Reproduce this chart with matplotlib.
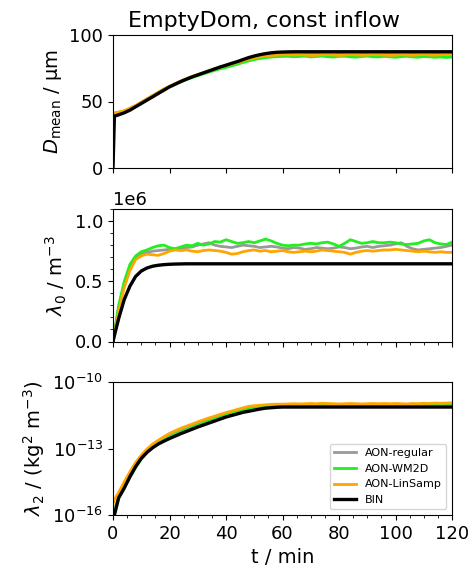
import numpy as np
import matplotlib
matplotlib.use("Agg")
import matplotlib.pyplot as plt
from matplotlib.ticker import MultipleLocator, NullLocator, FixedLocator

# time axis (min)
t = np.concatenate([[0, 0.5], np.arange(2, 121, 2)])

labels = ["AON-regular", "AON-WM2D", "AON-LinSamp", "BIN"]
colors = ["#999999", "#22ee22", "#ffa500", "#000000"]

# ---- D_mean (um) ----
dmean_regular = [
    41, 41, 41.9, 42.9, 44.8, 46.8, 49.2, 51.8, 54.2, 56.8,
    59.2, 61.2, 63.2, 65.1, 66.8, 68.3, 69.8, 71.2, 72.6, 73.9,
    75.1, 76.3, 77.5, 78.7, 80, 81.2, 82.3, 83.2, 84, 84.6,
    85, 85.3, 85.5, 85.8, 85.6, 85.9, 85.4, 85.7, 86.0, 85.6,
    85.3, 85.7, 85.9, 85.5, 85.8, 86.1, 85.6, 85.4, 85.8, 85.5,
    85.9, 85.7, 85.3, 85.6, 85.8, 85.5, 85.9, 85.6, 85.4, 85.7,
    85.5, 85.8]
dmean_wm2d = [
    41, 41, 41.8, 42.8, 44.5, 46.5, 49, 51.5, 54, 56.5,
    59, 61, 63, 64.8, 66.5, 68, 69.4, 70.8, 72.1, 73.4,
    74.6, 75.6, 76.8, 78, 79.3, 80.5, 81.5, 82.3, 83, 83.4,
    83.7, 83.9, 84.0, 83.6, 83.9, 84.1, 83.5, 83.8, 84.2, 83.7,
    83.4, 83.9, 84.0, 83.6, 83.3, 83.8, 84.1, 83.7, 83.5, 83.9,
    83.6, 83.2, 83.7, 84.0, 83.5, 83.3, 83.8, 83.6, 83.2, 83.5,
    83.1, 83.4]
dmean_linsamp = [
    41, 41.5, 42, 43, 45, 47, 49.5, 52, 54.5, 57,
    59.5, 61.5, 63.5, 65.5, 67.2, 68.8, 70.3, 71.7, 73.1, 74.5,
    75.8, 77, 78.2, 79.4, 80.6, 81.8, 82.8, 83.6, 84.2, 84.6,
    84.9, 85.1, 85.2, 84.9, 85.3, 85.0, 84.6, 84.8, 85.2, 85.4,
    85.0, 84.7, 84.9, 85.3, 85.1, 84.8, 85.0, 85.4, 85.2, 84.9,
    84.6, 84.9, 85.2, 85.0, 84.7, 85.1, 85.3, 85.0, 84.8, 85.1,
    85.4, 85.2]
dmean_bin = [
    0, 39, 40, 41.5, 43.5, 46, 48.5, 51, 53.5, 56,
    58.5, 61, 63, 65, 66.8, 68.5, 70, 71.5, 73, 74.5,
    76, 77.3, 78.7, 80, 81.5, 83, 84.2, 85.2, 86, 86.6,
    87, 87.2, 87.3, 87.4, 87.4, 87.4, 87.4, 87.4, 87.4, 87.4,
    87.4, 87.4, 87.4, 87.4, 87.4, 87.4, 87.4, 87.4, 87.4, 87.4,
    87.4, 87.4, 87.4, 87.4, 87.4, 87.4, 87.4, 87.4, 87.4, 87.4,
    87.4, 87.4]

# ---- lambda_0 (1e6 m^-3) ----
lam0_regular = [
    0, 0.07, 0.28, 0.48, 0.62, 0.69, 0.73, 0.74, 0.75, 0.755,
    0.76, 0.765, 0.77, 0.775, 0.78, 0.785, 0.80, 0.81, 0.82, 0.80,
    0.79, 0.785, 0.78, 0.79, 0.80, 0.795, 0.79, 0.78, 0.785, 0.79,
    0.785, 0.775, 0.77, 0.78, 0.775, 0.765, 0.77, 0.78, 0.775, 0.77,
    0.775, 0.785, 0.78, 0.77, 0.775, 0.785, 0.79, 0.78, 0.79, 0.795,
    0.80, 0.81, 0.82, 0.79, 0.77, 0.76, 0.765, 0.77, 0.775, 0.78,
    0.79, 0.80]
lam0_wm2d = [
    0, 0.08, 0.30, 0.50, 0.64, 0.71, 0.745, 0.76, 0.78, 0.795,
    0.80, 0.78, 0.77, 0.785, 0.80, 0.795, 0.815, 0.80, 0.81, 0.83,
    0.825, 0.845, 0.83, 0.815, 0.82, 0.83, 0.82, 0.835, 0.85, 0.835,
    0.815, 0.80, 0.795, 0.80, 0.80, 0.81, 0.815, 0.81, 0.82, 0.825,
    0.81, 0.79, 0.815, 0.845, 0.83, 0.815, 0.82, 0.83, 0.82, 0.82,
    0.825, 0.82, 0.81, 0.805, 0.81, 0.815, 0.835, 0.845, 0.82, 0.81,
    0.805, 0.825]
lam0_linsamp = [
    0, 0.06, 0.25, 0.45, 0.59, 0.68, 0.71, 0.725, 0.72, 0.715,
    0.73, 0.75, 0.76, 0.755, 0.76, 0.75, 0.745, 0.755, 0.76, 0.755,
    0.75, 0.74, 0.725, 0.73, 0.745, 0.755, 0.76, 0.75, 0.755, 0.745,
    0.75, 0.755, 0.745, 0.74, 0.745, 0.75, 0.745, 0.75, 0.76, 0.755,
    0.75, 0.745, 0.74, 0.725, 0.74, 0.75, 0.755, 0.75, 0.755, 0.76,
    0.76, 0.765, 0.76, 0.755, 0.75, 0.745, 0.75, 0.745, 0.74, 0.745,
    0.74, 0.74]
lam0_bin = [
    0, 0.05, 0.19, 0.35, 0.46, 0.54, 0.585, 0.61, 0.625, 0.633,
    0.638, 0.641, 0.643, 0.644, 0.645, 0.645, 0.645, 0.645, 0.645, 0.645,
    0.645, 0.645, 0.645, 0.645, 0.645, 0.645, 0.645, 0.645, 0.645, 0.645,
    0.645, 0.645, 0.645, 0.645, 0.645, 0.645, 0.645, 0.645, 0.645, 0.645,
    0.645, 0.645, 0.645, 0.645, 0.645, 0.645, 0.645, 0.645, 0.645, 0.645,
    0.645, 0.645, 0.645, 0.645, 0.645, 0.645, 0.645, 0.645, 0.645, 0.645,
    0.645, 0.645]

# ---- lambda_2 (log10 of kg^2 m^-3) ----
lam2_log_regular = [
    -16.0, -15.8, -15.15, -14.72, -14.25, -13.82, -13.44, -13.15, -12.92, -12.74,
    -12.58, -12.44, -12.31, -12.2, -12.1, -12.0, -11.9, -11.81, -11.72, -11.63,
    -11.55, -11.46, -11.38, -11.3, -11.23, -11.17, -11.12, -11.09, -11.07, -11.05,
    -11.04, -11.03, -11.03, -11.02, -11.03, -11.02, -11.02, -11.01, -11.02, -11.02,
    -11.01, -11.02, -11.02, -11.01, -11.02, -11.01, -11.02, -11.01, -11.01, -11.02,
    -11.01, -11.02, -11.01, -11.01, -11.0, -11.01, -11.0, -11.01, -11.0, -11.0,
    -11.0, -10.99]
lam2_log_wm2d = [
    -16.1, -15.9, -15.2, -14.78, -14.3, -13.86, -13.47, -13.18, -12.95, -12.77,
    -12.62, -12.49, -12.37, -12.26, -12.16, -12.06, -11.96, -11.86, -11.77, -11.68,
    -11.59, -11.5, -11.42, -11.34, -11.27, -11.21, -11.16, -11.12, -11.09, -11.07,
    -11.06, -11.05, -11.04, -11.04, -11.03, -11.04, -11.03, -11.02, -11.03, -11.03,
    -11.02, -11.03, -11.03, -11.02, -11.03, -11.02, -11.03, -11.02, -11.02, -11.03,
    -11.02, -11.03, -11.02, -11.02, -11.01, -11.02, -11.01, -11.02, -11.01, -11.01,
    -11.01, -11.0]
lam2_log_linsamp = [
    -15.5, -15.3, -14.98, -14.5, -14.05, -13.63, -13.3, -13.03, -12.8, -12.63,
    -12.47, -12.32, -12.2, -12.09, -11.99, -11.9, -11.8, -11.71, -11.62, -11.54,
    -11.46, -11.38, -11.31, -11.24, -11.17, -11.1, -11.07, -11.05, -11.03, -11.01,
    -11.0, -11.0, -10.99, -10.98, -10.99, -10.98, -10.97, -10.98, -10.96, -10.97,
    -10.98, -10.99, -10.98, -10.97, -10.98, -10.99, -10.98, -10.97, -10.98, -10.97,
    -10.98, -10.97, -10.98, -10.99, -10.97, -10.98, -10.96, -10.97, -10.95, -10.96,
    -10.95, -10.94]
lam2_log_bin = [
    -16.3, -16.0, -15.23, -14.78, -14.27, -13.82, -13.45, -13.18, -12.97, -12.80,
    -12.67, -12.55, -12.44, -12.33, -12.23, -12.13, -12.03, -11.94, -11.85, -11.76,
    -11.67, -11.58, -11.51, -11.44, -11.37, -11.32, -11.27, -11.22, -11.18, -11.16,
    -11.14, -11.13, -11.13, -11.13, -11.13, -11.13, -11.13, -11.13, -11.13, -11.13,
    -11.13, -11.13, -11.13, -11.13, -11.13, -11.13, -11.13, -11.13, -11.13, -11.13,
    -11.13, -11.13, -11.13, -11.13, -11.13, -11.13, -11.13, -11.13, -11.13, -11.13,
    -11.13, -11.13]

plt.rcParams["font.size"] = 13
plt.rcParams["axes.labelsize"] = 14

W, H = 472, 571
fig = plt.figure(figsize=(W / 100, H / 100), dpi=100)

def ax_at(x0, y0, x1, y1):
    return fig.add_axes([x0 / W, 1 - y1 / H, (x1 - x0) / W, (y1 - y0) / H])

ax1 = ax_at(113, 35, 452, 168)
ax2 = ax_at(113, 209, 452, 341.5)
ax3 = ax_at(113, 382, 452, 515)

lws = [2.0, 2.0, 2.0, 2.4]

for y, c, lw, lab in zip([dmean_regular, dmean_wm2d, dmean_linsamp, dmean_bin], colors, lws, labels):
    ax1.plot(t, y, color=c, lw=lw, label=lab)
for y, c, lw, lab in zip([lam0_regular, lam0_wm2d, lam0_linsamp, lam0_bin], colors, lws, labels):
    ax2.plot(t, np.array(y) * 1e6, color=c, lw=lw, label=lab)
for y, c, lw, lab in zip([lam2_log_regular, lam2_log_wm2d, lam2_log_linsamp, lam2_log_bin], colors, lws, labels):
    ax3.plot(t, 10.0 ** np.array(y), color=c, lw=lw, label=lab)

for ax in (ax1, ax2, ax3):
    ax.set_xlim(0, 120)
    ax.xaxis.set_major_locator(MultipleLocator(20))

ax1.set_ylim(0, 100)
ax1.yaxis.set_major_locator(MultipleLocator(50))
ax1.tick_params(labelbottom=False)
ax1.set_ylabel(r"$D_\mathrm{mean}$ / µm")

ax2.set_ylim(0, 1.1e6)
ax2.yaxis.set_major_locator(MultipleLocator(0.5e6))
ax2.yaxis.set_minor_locator(MultipleLocator(0.1e6))
ax2.xaxis.set_minor_locator(MultipleLocator(5))
ax2.tick_params(labelbottom=False)
ax2.set_ylabel(r"$\lambda_0$ / m$^{-3}$")

ax3.set_yscale("log")
ax3.set_ylim(1e-16, 1e-10)
ax3.yaxis.set_major_locator(FixedLocator([1e-16, 1e-13, 1e-10]))
ax3.yaxis.set_minor_locator(NullLocator())
ax3.xaxis.set_minor_locator(MultipleLocator(5))
ax3.set_ylabel(r"$\lambda_2$ / (kg$^2$ m$^{-3}$)")
ax3.set_xlabel("t / min")
ax3.legend(loc="lower right", fontsize=8)

fig.text(263.5 / W, 1 - 21 / H, "EmptyDom, const inflow", ha="center", va="center", fontsize=16)

fig.savefig("out.png", dpi=100)
